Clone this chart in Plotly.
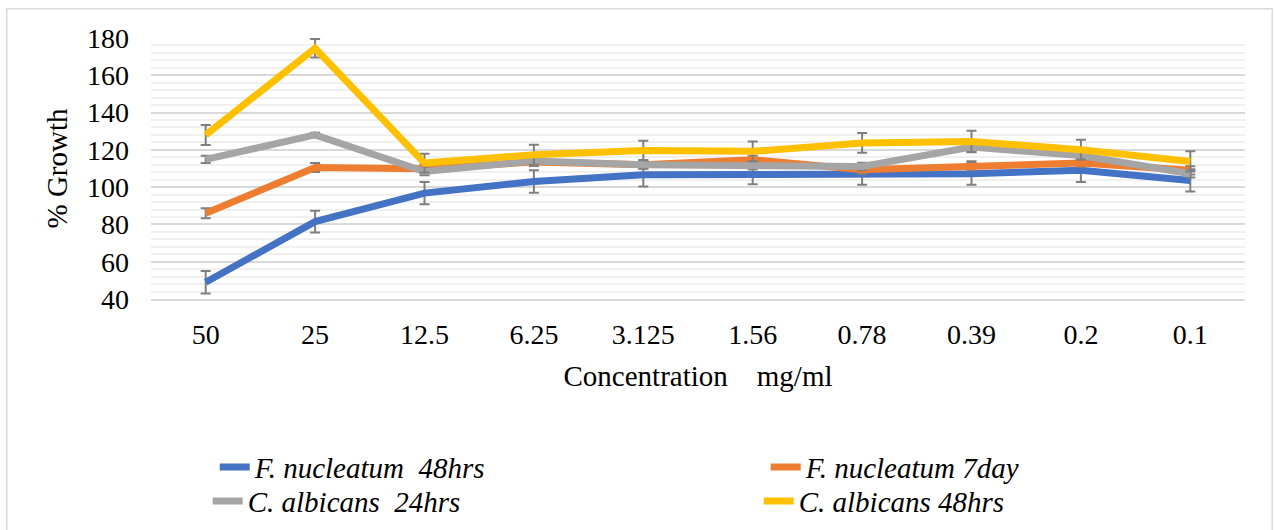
import plotly.graph_objects as go

categories = ["50", "25", "12.5", "6.25", "3.125", "1.56", "0.78", "0.39", "0.2", "0.1"]

fn48_vals = [49, 81.5, 96.8, 103, 106.6, 107, 107, 107.2, 109, 103.6]
fn48_err = [6, 5.8, 6, 6, 6.2, 5.5, 5.7, 5.9, 6.3, 6]

fn7_vals = [86, 110.5, 109.8, 113.5, 112, 114.7, 109.3, 111.5, 113, 109]
fn7_err = [2.7, 2.4, 2.2, 2.2, 2.2, 2.2, 2.2, 2.4, 2.2, 2.2]

ca24_vals = [114.9, 128, 108.4, 114, 112, 111.5, 111.1, 121.5, 117, 107.2]
ca24_err = [2, 1.2, 2, 1.6, 2, 2, 2, 2.5, 2, 2]

ca48_vals = [128, 174.5, 112.9, 117.4, 119.7, 119.2, 123.7, 124.5, 120.1, 113.8]
ca48_err = [5.4, 4.9, 5, 5.4, 5.2, 5.3, 5.3, 5.8, 5.3, 5.4]

names = ["F. nucleatum\u00a0 48hrs", "F. nucleatum 7day", "C. albicans\u00a0 24hrs", "C. albicans 48hrs"]
colors = ["#4472C4", "#ED7D31", "#A5A5A5", "#FFC000"]
legend_ids = ["legend", "legend2", "legend3", "legend4"]
series = [(fn48_vals, fn48_err), (fn7_vals, fn7_err), (ca24_vals, ca24_err), (ca48_vals, ca48_err)]

FONT = "Liberation Serif, Times New Roman, serif"

fig = go.Figure()
for (vals, err), name, col, lg in zip(series, names, colors, legend_ids):
    fig.add_trace(go.Scatter(
        x=categories, y=vals, name=name, mode="lines",
        line=dict(color=col, width=7),
        error_y=dict(type="data", array=err, visible=True, color="#7f7f7f", thickness=2, width=5),
        legend=lg,
    ))

W, H = 1274, 530
L, R, T, B = 151.3, 1245.3, 38.3, 299.3


def px2x(px):
    return (px - L) / (R - L)


def px2y(py):
    return (B - py) / (B - T)


def leg(xpx, ypx):
    return dict(x=px2x(xpx), y=px2y(ypx), xanchor="left", yanchor="top",
                orientation="v", font=dict(family=FONT, size=29, style="italic", color="black"),
                bgcolor="rgba(0,0,0,0)")


fig.update_layout(
    width=W, height=H,
    margin=dict(l=L, r=W - R, t=T, b=H - B, autoexpand=False),
    paper_bgcolor="white", plot_bgcolor="white",
    font=dict(family=FONT, size=28, color="black"),
    showlegend=True,
    legend=leg(215, 442),
    legend2=leg(766, 442),
    legend3=leg(208, 476),
    legend4=leg(759, 476),
    xaxis=dict(
        type="category", showgrid=False, ticks="", ticklabelstandoff=10,
        showline=True, linecolor="#d9d9d9", linewidth=1.5,
        tickfont=dict(family=FONT, size=28),
        title=dict(text="Concentration\u00a0\u00a0\u00a0 mg/ml", font=dict(family=FONT, size=29), standoff=16),
        range=[-0.5, 9.5], fixedrange=True,
    ),
    yaxis=dict(
        range=[40, 180], dtick=20, tick0=40, showgrid=True, gridcolor="#d9d9d9", gridwidth=1.5,
        zeroline=False, ticks="", ticklabelstandoff=21,
        tickfont=dict(family=FONT, size=28),
        minor=dict(dtick=4, tick0=40, showgrid=True, gridcolor="#f0f0f0", gridwidth=1.5),
        title=dict(text="% Growth", font=dict(family=FONT, size=29), standoff=10),
    ),
    shapes=[dict(type="rect", xref="paper", yref="paper",
                 x0=px2x(7), x1=px2x(1272.5), y0=px2y(540), y1=px2y(9),
                 line=dict(color="#d9d9d9", width=1.5), fillcolor="rgba(0,0,0,0)", layer="below")],
)

fig.write_html("out.html", config={"displayModeBar": False},
               post_script="document.body.style.margin='0';document.body.style.overflow='hidden';")
